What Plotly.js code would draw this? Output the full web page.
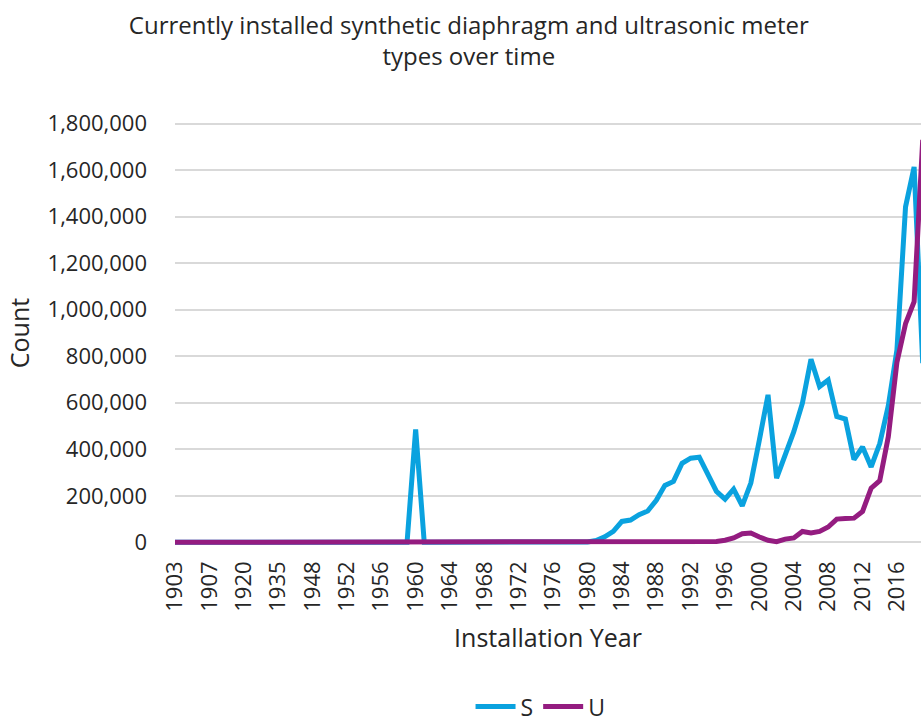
<!DOCTYPE html>
<html>
<head>
<meta charset="utf-8">
<script src="https://cdn.plot.ly/plotly-3.0.1.min.js"></script>
<style>
  html, body { margin: 0; padding: 0; background: #ffffff; overflow: hidden; }
  #chart { width: 921px; height: 727px; }
</style>
</head>
<body>
<div id="chart"></div>
<script>
// Categories (installation years) as shown on the category axis
const years = [
  "1903","1904","1905","1906","1907","1910","1912","1915","1920","1925","1928","1930","1935","1938","1940","1945",
  "1948","1949","1950","1951","1952","1953","1954","1955","1956","1957","1958","1959",
  "1960","1961","1962","1963","1964","1965","1966","1967","1968","1969",
  "1970","1971","1972","1973","1974","1975","1976","1977","1978","1979",
  "1980","1981","1982","1983","1984","1985","1986","1987","1988","1989",
  "1990","1991","1992","1993","1994","1995","1996","1997","1998","1999",
  "2000","2001","2002","2003","2004","2005","2006","2007","2008","2009",
  "2010","2011","2012","2013","2014","2015","2016","2017","2018","2019"
];

// Series S (synthetic diaphragm)
const seriesS = [
  0,0,0,0,0,0,0,0,0,0,0,0,0,0,0,0,
  0,0,0,0,0,0,0,0,0,0,0,0,
  485000,0,0,0,0,0,0,0,0,0,
  0,0,0,0,0,0,0,0,0,0,
  2000,8000,24000,47000,90000,96000,119000,135000,181000,245000,
  262000,340000,362000,366000,290000,219000,186000,229000,157000,255000,
  441000,634000,276000,369000,476000,598000,787000,670000,698000,541000,
  530000,356000,410000,324000,425000,588000,827000,1442000,1614000,770000
];

// Series U (ultrasonic)
const seriesU = [
  0,0,0,0,0,0,0,0,0,0,0,0,0,0,0,0,
  0,0,0,0,0,0,0,0,0,0,0,0,
  0,0,0,0,0,0,0,0,0,0,
  0,0,0,0,0,0,0,0,0,0,
  0,0,0,0,0,0,0,0,0,0,
  0,0,0,0,0,4000,9000,19000,37000,40000,
  23000,9000,3000,14000,19000,47000,40000,47000,66000,100000,
  102000,104000,133000,233000,265000,455000,775000,940000,1035000,1730000
];

// Every fourth category is labelled
const tickYears = years.filter((_, i) => i % 4 === 0);

const yTickVals = [0, 200000, 400000, 600000, 800000, 1000000, 1200000, 1400000, 1600000, 1800000];

const FONT = "'Open Sans', 'Noto Sans', sans-serif";
const TXT = "#262626";

const traces = [
  {
    x: years, y: seriesS, name: "S", type: "scatter", mode: "lines",
    line: { color: "#0aa2df", width: 5, shape: "linear" }
  },
  {
    x: years, y: seriesU, name: "U", type: "scatter", mode: "lines",
    line: { color: "#941c80", width: 5, shape: "linear" }
  }
];

const layout = {
  width: 921, height: 727,
  margin: { l: 175, r: 0, t: 119, b: 180, pad: 0, autoexpand: false },
  paper_bgcolor: "#ffffff", plot_bgcolor: "#ffffff",
  font: { family: FONT, color: TXT },
  title: {
    text: "Currently installed synthetic diaphragm and ultrasonic meter<br>types over time",
    font: { family: FONT, size: 24, color: TXT },
    xref: "container", yref: "container",
    x: 0.509, xanchor: "center", y: 0.953, yanchor: "middle"
  },
  showlegend: true,
  legend: {
    orientation: "h", x: 0.49, xanchor: "center", y: -0.3228, yanchor: "top",
    font: { family: FONT, size: 23, color: TXT }, itemwidth: 40
  },
  xaxis: {
    type: "category",
    range: [0, 86.8],
    tickmode: "array", tickvals: tickYears, ticktext: tickYears,
    tickangle: -90,
    tickfont: { family: FONT, size: 22, color: TXT },
    showgrid: false, zeroline: false, showline: false, ticks: "",
    ticklabelstandoff: 9,
    title: { text: "Installation Year", font: { family: FONT, size: 25, color: TXT }, standoff: 18 },
    automargin: false
  },
  yaxis: {
    range: [-20000, 1820000],
    tickmode: "array", tickvals: yTickVals,
    tickformat: ",d",
    tickfont: { family: FONT, size: 22, color: TXT },
    showgrid: true, gridcolor: "#d9d9d9", gridwidth: 2,
    zeroline: false, showline: false, ticks: "",
    ticklabelstandoff: 27,
    title: { text: "Count", font: { family: FONT, size: 25, color: TXT }, standoff: 10 },
    automargin: false
  }
};

Plotly.newPlot("chart", traces, layout, { displayModeBar: false, staticPlot: true });
</script>
</body>
</html>
